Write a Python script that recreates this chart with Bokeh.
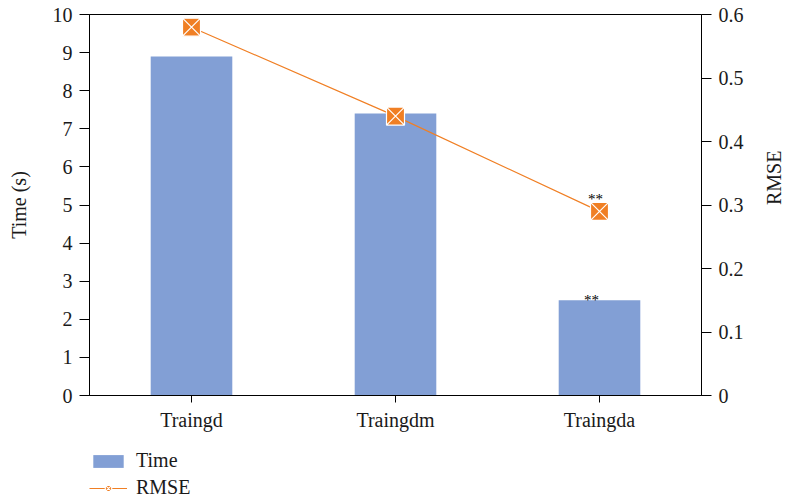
import math
from bokeh.plotting import figure
from bokeh.layouts import column
from bokeh.models import (FactorRange, Range1d, LinearAxis, FixedTicker,
                          CustomJSTickFormatter, Legend, LegendItem, ColumnDataSource)
from bokeh.core.properties import value
from bokeh.embed import file_html
from bokeh.resources import INLINE

# ---- data ----
categories = ["Traingd", "Traingdm", "Traingda"]
time_s = [8.9, 7.4, 2.5]
rmse = [0.58, 0.44, 0.29]
time_marks = ["", "", "**"]
rmse_marks = ["", "", "**"]
time_ticks = [0, 1, 2, 3, 4, 5, 6, 7, 8, 9, 10]
rmse_ticks = [0, 0.1, 0.2, 0.3, 0.4, 0.5, 0.6]
series_names = ["Time", "RMSE"]

FONT = "Liberation Serif"
TXT = "#1a1a1a"
BAR = "#829fd5"
ORANGE = "#f07f24"
FS = "20px"

src = ColumnDataSource(dict(cat=categories, time=time_s, rmse=rmse,
                            tmark=time_marks, rmark=rmse_marks))

p = figure(x_range=FactorRange(*categories), y_range=Range1d(0, 10),
           width=798, height=440, output_backend="svg", toolbar_location=None,
           min_border_left=89, min_border_right=95, min_border_top=14,
           min_border_bottom=45)
p.extra_y_ranges = {"rmse": Range1d(0, 0.6)}

p.xgrid.visible = False
p.ygrid.visible = False
p.outline_line_color = "black"
p.outline_line_alpha = 1
p.outline_line_width = 1
p.background_fill_color = "white"
p.border_fill_color = "white"

def style_axis(ax):
    ax.axis_line_color = "black"
    ax.axis_line_width = 1
    ax.major_tick_line_color = "black"
    ax.major_tick_in = 0
    ax.minor_tick_line_color = None
    ax.major_label_text_font = FONT
    ax.major_label_text_font_size = FS
    ax.major_label_text_color = TXT
    ax.axis_label_text_font = FONT
    ax.axis_label_text_font_size = FS
    ax.axis_label_text_font_style = "normal"
    ax.axis_label_text_color = TXT

# left axis
yl = p.yaxis[0]
style_axis(yl)
yl.ticker = FixedTicker(ticks=time_ticks)
yl.major_tick_out = 10
yl.major_label_standoff = 7
yl.axis_label = "Time (s)"
yl.axis_label_standoff = 20

# bottom axis
xa = p.xaxis[0]
style_axis(xa)
xa.major_tick_out = 7
xa.major_label_standoff = 6

# right axis
yr = LinearAxis(y_range_name="rmse", axis_label="RMSE")
style_axis(yr)
yr.ticker = FixedTicker(ticks=rmse_ticks)
yr.formatter = CustomJSTickFormatter(code="return (Math.round(tick*10)/10).toString();")
yr.major_tick_out = 10
yr.major_label_standoff = 7
yr.axis_label_standoff = 27
yr.axis_label_orientation = math.pi / 2
p.add_layout(yr, "right")

bar_style = dict(fill_color=BAR, line_color=None)
line_style = dict(line_color=ORANGE, line_width=1.2)
mark_style = dict(marker="square_x", fill_color=ORANGE, line_color="white", line_width=1.2)

p.vbar(x="cat", top="time", width=0.4, source=src, **bar_style)
p.line(x="cat", y="rmse", source=src, y_range_name="rmse", **line_style)
p.scatter(x="cat", y="rmse", source=src, y_range_name="rmse", size=18, **mark_style)

p.text(x="cat", y="time", text="tmark", source=src, text_font=value(FONT),
       text_font_size="15px", text_align="center", text_baseline="alphabetic",
       text_color="black", x_offset=-8)
p.text(x="cat", y="rmse", text="rmark", source=src, y_range_name="rmse",
       text_font=value(FONT), text_font_size="15px", text_align="center",
       text_baseline="alphabetic", text_color="black", x_offset=-4, y_offset=-12)

# ---- legend strip below the chart: same series, viewed outside its ranges,
#      so only the legend entries are visible ----
lg = figure(width=798, height=62, output_backend="svg", toolbar_location=None,
            x_axis_type=None, y_axis_type=None, min_border=0,
            x_range=FactorRange(*categories), y_range=Range1d(20, 21))
lg.outline_line_color = None
lg.xgrid.visible = False
lg.ygrid.visible = False
lg.background_fill_color = "white"
lg.border_fill_color = "white"
r_bar = lg.vbar(x="cat", top="time", width=0.4, source=src, **bar_style)
r_line = lg.line(x="cat", y="rmse", source=src, **line_style)
r_mark = lg.scatter(x="cat", y="rmse", source=src, size=12, **mark_style)

legend = Legend(items=[LegendItem(label=series_names[0], renderers=[r_bar], index=0),
                       LegendItem(label=series_names[1], renderers=[r_line, r_mark], index=0)],
                location=(0, 3), orientation="vertical",
                background_fill_alpha=0, border_line_color=None,
                padding=0, margin=0, spacing=4,
                glyph_width=38, glyph_height=16, label_height=20,
                label_standoff=9, label_text_font=FONT,
                label_text_font_size=FS, label_text_color=TXT)
lg.add_layout(legend, "center")

layout = column(p, lg, spacing=0)
open("out.html", "w").write(file_html(layout, INLINE))
